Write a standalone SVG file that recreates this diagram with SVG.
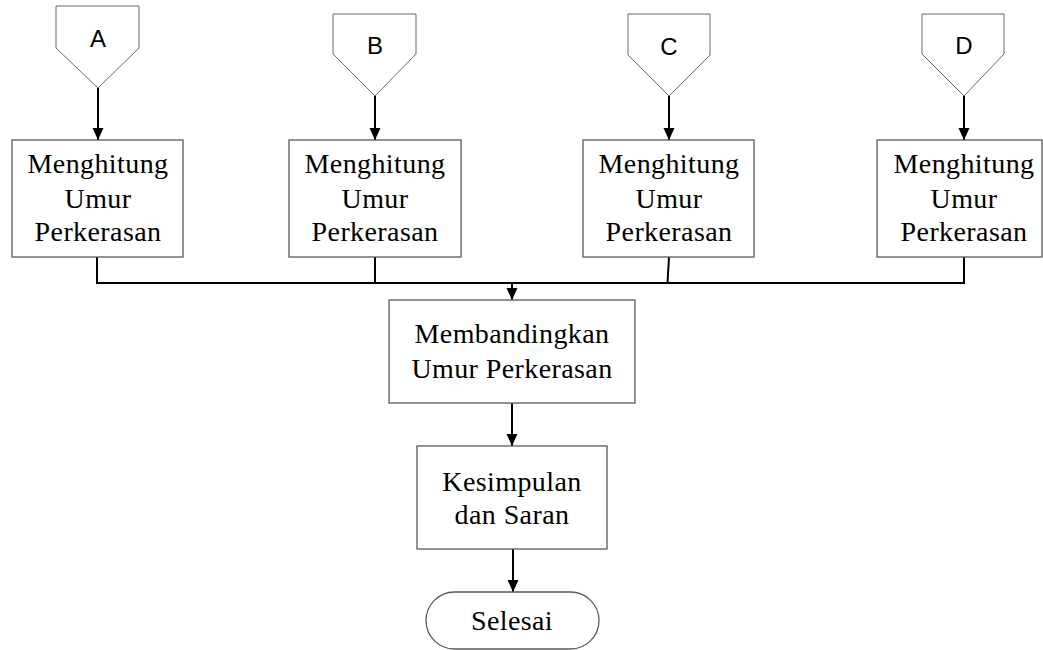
<svg xmlns="http://www.w3.org/2000/svg" width="1043" height="650" viewBox="0 0 1043 650">
<style>
.box{fill:#fff;stroke:#5a5a5a;stroke-width:1.3}
.pent{fill:#fff;stroke:#6a6a6a;stroke-width:1}
.t{font-family:"Liberation Serif","Times New Roman",serif;font-size:28px;fill:#000;text-anchor:middle;letter-spacing:0.4px}
.l{font-family:"Liberation Sans",Arial,sans-serif;font-size:24px;fill:#000;text-anchor:middle}
.c{fill:none;stroke:#000;stroke-width:2}
</style>
<defs>
<marker id="ah" markerUnits="userSpaceOnUse" markerWidth="12" markerHeight="14" refX="12" refY="5.5" orient="auto" viewBox="0 0 12 11">
<path d="M0,0 L12,5.5 L0,11 Z" fill="#000"/>
</marker>
</defs>
<rect width="1043" height="650" fill="#fff"/>
<g id="connectors">
<line class="c" x1="98" y1="88" x2="98" y2="140" marker-end="url(#ah)"/>
<line class="c" x1="375" y1="96" x2="375" y2="140" marker-end="url(#ah)"/>
<line class="c" x1="669" y1="96" x2="669" y2="140" marker-end="url(#ah)"/>
<line class="c" x1="964" y1="96" x2="964" y2="140" marker-end="url(#ah)"/>
<polyline class="c" points="97,257 97,283 964,283 964,257"/>
<line class="c" x1="375" y1="257" x2="375" y2="283"/>
<line class="c" x1="669" y1="257" x2="667.5" y2="283"/>
<line class="c" x1="512" y1="283" x2="512" y2="300" marker-end="url(#ah)"/>
<line class="c" x1="512" y1="403" x2="512" y2="446" marker-end="url(#ah)"/>
<line class="c" x1="513" y1="549" x2="513" y2="592" marker-end="url(#ah)"/>
</g>
<g id="nodeA">
<polygon class="pent" points="56,6 139,6 139,48 98,88 56,48"/>
<text class="l" x="98" y="47">A</text>
</g>
<g id="nodeB">
<polygon class="pent" points="333,14 416,14 416,54 375,96 333,54"/>
<text class="l" x="375" y="54">B</text>
</g>
<g id="nodeC">
<polygon class="pent" points="628,14 710,14 710,55 669,96 628,55"/>
<text class="l" x="669" y="55">C</text>
</g>
<g id="nodeD">
<polygon class="pent" points="922,14 1004,14 1004,54 964,96 922,54"/>
<text class="l" x="964" y="54">D</text>
</g>
<g id="boxA">
<rect class="box" x="12" y="140" width="171" height="117"/>
<text class="t" x="98" y="173">Menghitung</text>
<text class="t" x="98" y="208">Umur</text>
<text class="t" x="98" y="241">Perkerasan</text>
</g>
<g id="boxB">
<rect class="box" x="289" y="140" width="172" height="117"/>
<text class="t" x="375" y="173">Menghitung</text>
<text class="t" x="375" y="208">Umur</text>
<text class="t" x="375" y="241">Perkerasan</text>
</g>
<g id="boxC">
<rect class="box" x="583" y="140" width="171" height="117"/>
<text class="t" x="669" y="173">Menghitung</text>
<text class="t" x="669" y="208">Umur</text>
<text class="t" x="669" y="241">Perkerasan</text>
</g>
<g id="boxD">
<rect class="box" x="877" y="140" width="165" height="117"/>
<text class="t" x="964" y="173">Menghitung</text>
<text class="t" x="964" y="208">Umur</text>
<text class="t" x="964" y="241">Perkerasan</text>
</g>
<g id="compare">
<rect class="box" x="389" y="300" width="246" height="103"/>
<text class="t" x="512" y="343">Membandingkan</text>
<text class="t" x="512" y="378">Umur Perkerasan</text>
</g>
<g id="conclusion">
<rect class="box" x="417" y="446" width="190" height="103"/>
<text class="t" x="512" y="491">Kesimpulan</text>
<text class="t" x="512" y="524">dan Saran</text>
</g>
<g id="end">
<rect class="box" x="426" y="592" width="173" height="57" rx="28.5"/>
<text class="t" x="512" y="630">Selesai</text>
</g>
</svg>
